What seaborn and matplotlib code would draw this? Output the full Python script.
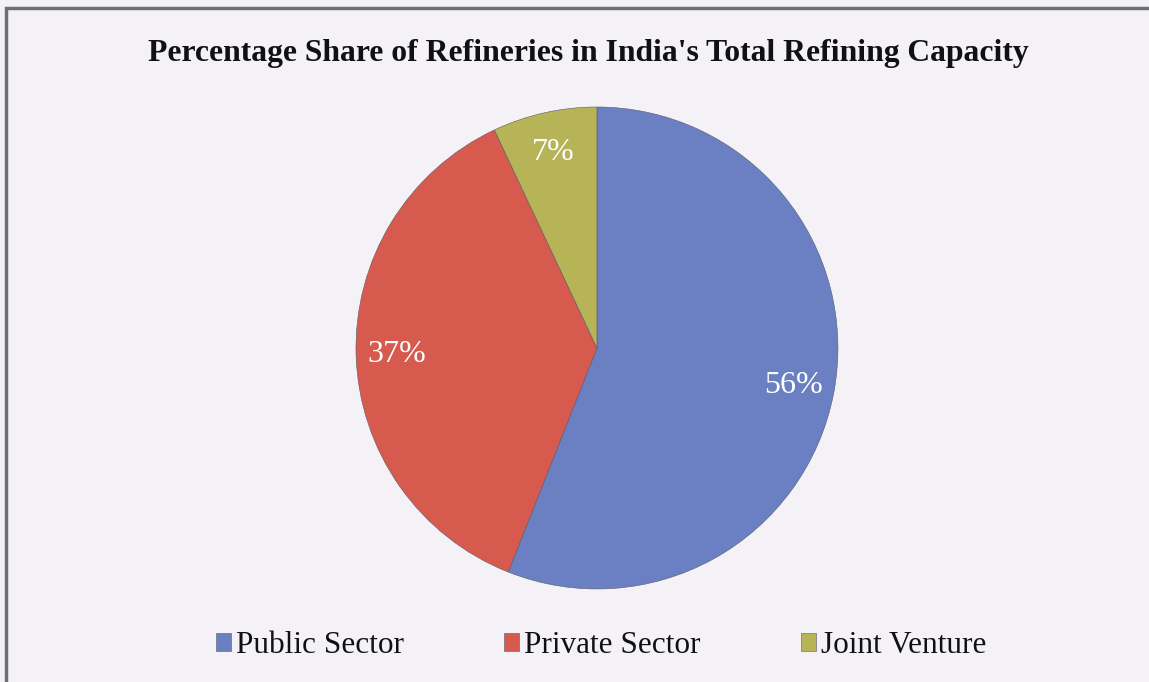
import matplotlib
matplotlib.use("Agg")
import matplotlib.pyplot as plt
import seaborn as sns
from matplotlib.patches import Rectangle

# data
sectors = ["Public Sector", "Private Sector", "Joint Venture"]
shares = [56, 37, 7]
colors = ["#6a80c2", "#d75a4f", "#b6b456"]

sns.set_theme(style="white")
plt.rcParams['font.family'] = ['Liberation Serif', 'DejaVu Serif']

fig = plt.figure(figsize=(11.49, 6.82), dpi=100)
fig.patch.set_facecolor("#f4f2f6")

# outer frame like the scanned box
fig.patches.append(Rectangle((0.005, -0.01), 1.2, 0.998, transform=fig.transFigure,
                             fill=False, edgecolor="#6f6f6f", linewidth=2.5))

ax = fig.add_axes([0.3098, 0.1364, 0.4195, 0.7067])
ax.set_facecolor("none")
wedges, texts, autotexts = ax.pie(
    shares,
    colors=colors,
    startangle=90,
    counterclock=False,
    radius=1,
    autopct=lambda p: f"{p:.0f}%",
    pctdistance=0.83,
    wedgeprops=dict(edgecolor="#5a5a6a", linewidth=0.4),
    textprops=dict(color="white", fontsize=23),
)
ax.set_xlim(-1.0, 1.0)
ax.set_ylim(-1.0, 1.0)
ax.set_aspect("equal")

fig.text(0.512, 0.922, "Percentage Share of Refineries in India's Total Refining Capacity",
         ha="center", va="center", fontsize=22.8, fontweight="bold", color="#111111")

leg = fig.legend(wedges, sectors, loc="center", bbox_to_anchor=(0.523, 0.053), ncol=3,
                 frameon=False, fontsize=22.5, handlelength=0.5, handleheight=0.5,
                 handletextpad=0.15, columnspacing=3.2)
for t in leg.get_texts():
    t.set_color("#111111")

fig.savefig("out.png", dpi=100, facecolor=fig.get_facecolor())
